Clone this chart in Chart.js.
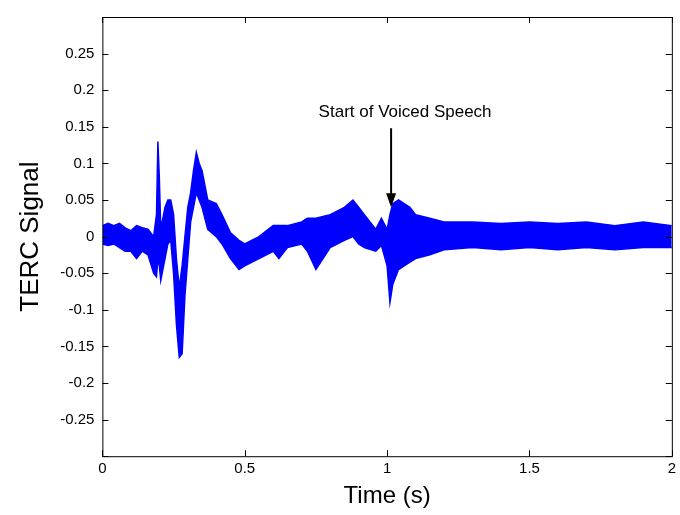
<!DOCTYPE html>
<html>
<head>
<meta charset="utf-8">
<script src="https://cdn.jsdelivr.net/npm/chart.js@4/dist/chart.umd.min.js"></script>
<style>
  body { margin: 0; background: #fff; }
</style>
</head>
<body>
<canvas id="c" width="680" height="515"></canvas>
<script>
// envelope of the TERC signal
const times = [0, 0.02, 0.04, 0.06, 0.08, 0.1, 0.12, 0.14, 0.16, 0.18, 0.19, 0.195, 0.2, 0.205, 0.21, 0.22, 0.23, 0.24, 0.25, 0.26, 0.27, 0.28, 0.29, 0.3, 0.31, 0.32, 0.33, 0.34, 0.35, 0.37, 0.4, 0.42, 0.45, 0.48, 0.5, 0.55, 0.6, 0.62, 0.65, 0.7, 0.72, 0.75, 0.8, 0.85, 0.88, 0.9, 0.92, 0.96, 0.98, 1.0, 1.01, 1.02, 1.04, 1.06, 1.08, 1.1, 1.15, 1.2, 1.3, 1.4, 1.5, 1.6, 1.7, 1.8, 1.9, 2.0];
const upper = [0.015, 0.018, 0.015, 0.018, 0.012, 0.008, 0.015, 0.012, 0.01, 0.0, 0.03, 0.13, 0.08, 0.01, 0.02, 0.04, 0.05, 0.05, 0.03, -0.03, -0.07, -0.04, 0.0, 0.04, 0.06, 0.09, 0.115, 0.1, 0.09, 0.05, 0.045, 0.03, 0.005, -0.005, -0.01, 0.0, 0.015, 0.015, 0.015, 0.02, 0.025, 0.025, 0.03, 0.04, 0.05, 0.04, 0.03, 0.01, 0.025, 0.01, 0.03, 0.045, 0.05, 0.045, 0.04, 0.03, 0.025, 0.02, 0.02, 0.018, 0.02, 0.018, 0.02, 0.015, 0.02, 0.015];
const lower = [-0.01, -0.012, -0.01, -0.015, -0.02, -0.02, -0.03, -0.02, -0.025, -0.05, -0.055, -0.03, -0.04, -0.06, -0.05, -0.03, -0.01, -0.005, -0.05, -0.12, -0.165, -0.16, -0.08, -0.03, 0.02, 0.04, 0.06, 0.05, 0.04, 0.01, 0.0, -0.01, -0.03, -0.045, -0.04, -0.03, -0.02, -0.03, -0.015, -0.01, -0.02, -0.045, -0.015, -0.005, 0.0, -0.01, -0.015, -0.02, -0.012, -0.04, -0.09, -0.065, -0.045, -0.04, -0.035, -0.03, -0.025, -0.018, -0.015, -0.018, -0.015, -0.018, -0.015, -0.018, -0.015, -0.015];
const xTicks = [0, 0.5, 1, 1.5, 2];
const yTicks = [-0.3, -0.25, -0.2, -0.15, -0.1, -0.05, 0, 0.05, 0.1, 0.15, 0.2, 0.25, 0.3];
const note = { text: 'Start of Voiced Speech', x: 1.014, yTop: 0.148, yTip: 0.04 };

const toPts = arr => times.map((t, i) => ({ x: t, y: arr[i] }));
const fmt = v => (Math.abs(v) < 1e-9 ? '0' : String(+v.toFixed(2)));

// draws the arrow and its label in data coordinates
const annot = {
  id: 'annot',
  afterDatasetsDraw(chart) {
    const { ctx, scales: { x, y } } = chart;
    const px = x.getPixelForValue(note.x);
    const top = y.getPixelForValue(note.yTop);
    const tip = y.getPixelForValue(note.yTip);
    ctx.save();
    ctx.strokeStyle = '#000';
    ctx.fillStyle = '#000';
    ctx.lineWidth = 2;
    ctx.beginPath();
    ctx.moveTo(px, top);
    ctx.lineTo(px, tip - 12);
    ctx.stroke();
    ctx.beginPath();
    ctx.moveTo(px - 5, tip - 14);
    ctx.lineTo(px + 5, tip - 14);
    ctx.lineTo(px, tip);
    ctx.closePath();
    ctx.fill();
    ctx.font = '17px "Liberation Sans", Arial, sans-serif';
    ctx.textAlign = 'center';
    ctx.textBaseline = 'bottom';
    ctx.fillText(note.text, px + 14, top - 7);
    ctx.restore();
  }
};

// black frame round the plot area, ticks pointing inward
const frame = {
  id: 'frame',
  afterDraw(chart) {
    const { ctx, chartArea: a, scales: { x, y } } = chart;
    ctx.save();
    ctx.strokeStyle = '#000';
    ctx.lineWidth = 1;
    ctx.strokeRect(a.left + 0.5, a.top + 0.5, a.width, a.height);
    ctx.beginPath();
    xTicks.forEach(v => {
      const p = Math.round(x.getPixelForValue(v)) + 0.5;
      ctx.moveTo(p, a.bottom); ctx.lineTo(p, a.bottom - 6);
      ctx.moveTo(p, a.top); ctx.lineTo(p, a.top + 6);
    });
    yTicks.forEach(v => {
      const p = Math.round(y.getPixelForValue(v)) + 0.5;
      ctx.moveTo(a.left, p); ctx.lineTo(a.left + 6, p);
      ctx.moveTo(a.right, p); ctx.lineTo(a.right - 6, p);
    });
    ctx.stroke();
    ctx.restore();
  }
};

const font = { family: '"Liberation Sans", Arial, sans-serif', size: 15 };

new Chart(document.getElementById('c'), {
  type: 'line',
  data: {
    datasets: [
      { data: toPts(upper), borderColor: '#0000ff', borderWidth: 1.5, pointRadius: 0, fill: false, tension: 0 },
      { data: toPts(lower), borderColor: '#0000ff', borderWidth: 1.5, pointRadius: 0, fill: '-1', backgroundColor: '#0000ff', tension: 0 }
    ]
  },
  options: {
    responsive: false,
    animation: false,
    devicePixelRatio: 1,
    layout: { padding: { top: 13, right: 8, left: 11, bottom: 0 } },
    plugins: { legend: { display: false }, tooltip: { enabled: false } },
    scales: {
      x: {
        type: 'linear', min: 0, max: 2,
        afterBuildTicks: s => { s.ticks = xTicks.map(v => ({ value: v })); },
        ticks: { color: '#000', font, callback: v => fmt(v), maxRotation: 0, autoSkip: false, padding: 4 },
        grid: { display: false, drawTicks: false },
        border: { display: false },
        title: { display: true, text: 'Time (s)', color: '#000', font: { family: font.family, size: 24 }, padding: { top: 0 } }
      },
      y: {
        type: 'linear', min: -0.3, max: 0.3,
        afterBuildTicks: s => { s.ticks = yTicks.map(v => ({ value: v })); },
        ticks: { color: '#000', font, autoSkip: false, callback: v => (Math.abs(Math.abs(v) - 0.3) < 1e-9 ? '' : fmt(v)), padding: 8 },
        grid: { display: false, drawTicks: false },
        border: { display: false },
        title: { display: true, text: 'TERC Signal', color: '#000', font: { family: font.family, size: 26 }, padding: { bottom: 6 } }
      }
    }
  },
  plugins: [annot, frame]
});
</script>
</body>
</html>
